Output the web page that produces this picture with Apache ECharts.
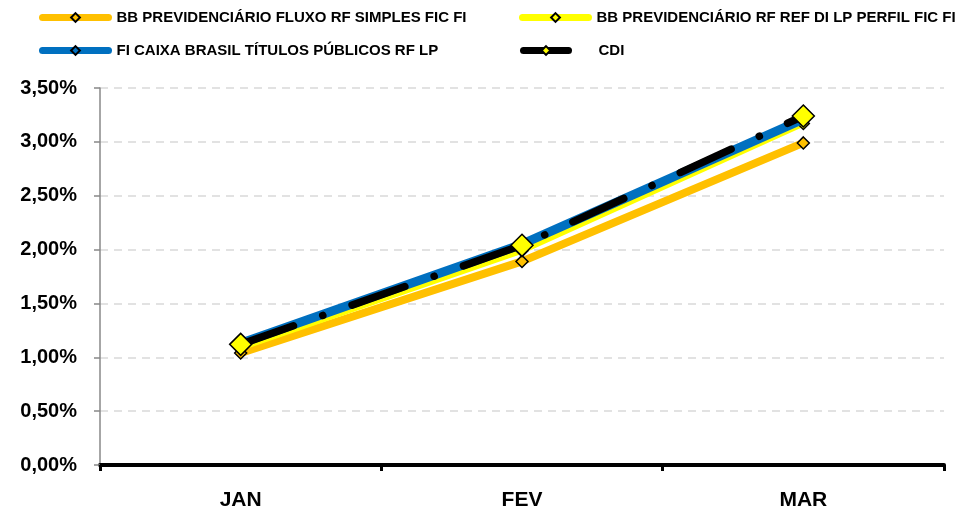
<!DOCTYPE html>
<html><head><meta charset="utf-8">
<script src="https://cdn.jsdelivr.net/npm/echarts@6/dist/echarts.min.js"></script>
<style>html,body{margin:0;padding:0;background:#fff}#c{width:968px;height:512px}</style>
</head><body><div id="c"></div>
<script>
const categories = ['JAN', 'FEV', 'MAR'];
const seriesNames = [
  'BB PREVIDENCIÁRIO FLUXO RF SIMPLES FIC FI',
  'BB PREVIDENCIÁRIO RF REF DI LP PERFIL FIC FI',
  'FI CAIXA BRASIL TÍTULOS PÚBLICOS RF LP',
  'CDI'
];
const bbFluxo = [1.04, 1.89, 2.99];
const bbPerfil = [1.09, 1.99, 3.17];
const caixa = [1.13, 2.05, 3.21];
const cdi = [1.12, 2.04, 3.24];
const yTicks = { min: 0, max: 3.5, interval: 0.5 };

const FONT = 'Liberation Sans';
const chart = echarts.init(document.getElementById('c'));
function leg(left, top, name, w, extraPad) {
  return {
    left: left, top: top, padding: 0, orient: 'horizontal',
    itemWidth: w, itemHeight: 11, itemGap: 6,
    lineStyle: { width: 7, type: 'solid', cap: 'round' },
    textStyle: { fontFamily: FONT, fontWeight: 'bold', fontSize: 15, color: '#000',
      padding: [0, 0, 0, extraPad] },
    data: [name]
  };
}
chart.setOption({
  animation: false,
  legend: [
    leg(39, 10, seriesNames[0], 66, 3),
    leg(519, 10, seriesNames[1], 66, 3),
    leg(39, 43, seriesNames[2], 66, 3),
    leg(520, 43, seriesNames[3], 45, 25)
  ],
  grid: { left: 100, right: 24, top: 88, bottom: 47 },
  xAxis: {
    type: 'category', data: categories, boundaryGap: true,
    axisLine: { lineStyle: { color: '#000', width: 4 } },
    axisTick: { show: true, length: 6, lineStyle: { color: '#000', width: 3 } },
    axisLabel: { fontFamily: FONT, fontWeight: 'bold', fontSize: 21, color: '#000', margin: 25 }
  },
  yAxis: {
    type: 'value', min: yTicks.min, max: yTicks.max, interval: yTicks.interval,
    axisLine: { show: true, lineStyle: { color: '#888', width: 1.5 } },
    axisTick: { show: true, length: 6, lineStyle: { color: '#888', width: 1.5 } },
    axisLabel: { fontFamily: FONT, fontWeight: 'bold', fontSize: 20, color: '#000', margin: 23,
      formatter: v => v.toFixed(2).replace('.', ',') + '%' },
    splitLine: { show: true, lineStyle: { color: '#D9D9D9', width: 1.5, type: [8, 6] } }
  },
  series: [
    { name: seriesNames[0], type: 'line', data: bbFluxo, z: 2,
      lineStyle: { color: '#FFC000', width: 8 },
      symbol: 'diamond', symbolSize: 12,
      itemStyle: { color: '#FFC000', borderColor: '#000', borderWidth: 1.5 } },
    { name: seriesNames[1], type: 'line', data: bbPerfil, z: 3,
      lineStyle: { color: '#FFFF00', width: 6 },
      symbol: 'diamond', symbolSize: 12,
      itemStyle: { color: '#FFFF00', borderColor: '#000', borderWidth: 1.5 } },
    { name: seriesNames[2], type: 'line', data: caixa, z: 4,
      lineStyle: { color: '#0070C0', width: 9 },
      symbol: 'diamond', symbolSize: 12,
      itemStyle: { color: '#0070C0', borderColor: '#000', borderWidth: 1.5 } },
    { name: seriesNames[3], type: 'line', data: cdi, z: 5,
      lineStyle: { color: '#000', width: 7.5, type: [56, 31, 0.1, 31], cap: 'round' },
      symbol: 'diamond', symbolSize: 22,
      itemStyle: { color: '#FFFF00', borderColor: '#000', borderWidth: 1.5 } }
  ]
});
</script></body></html>
